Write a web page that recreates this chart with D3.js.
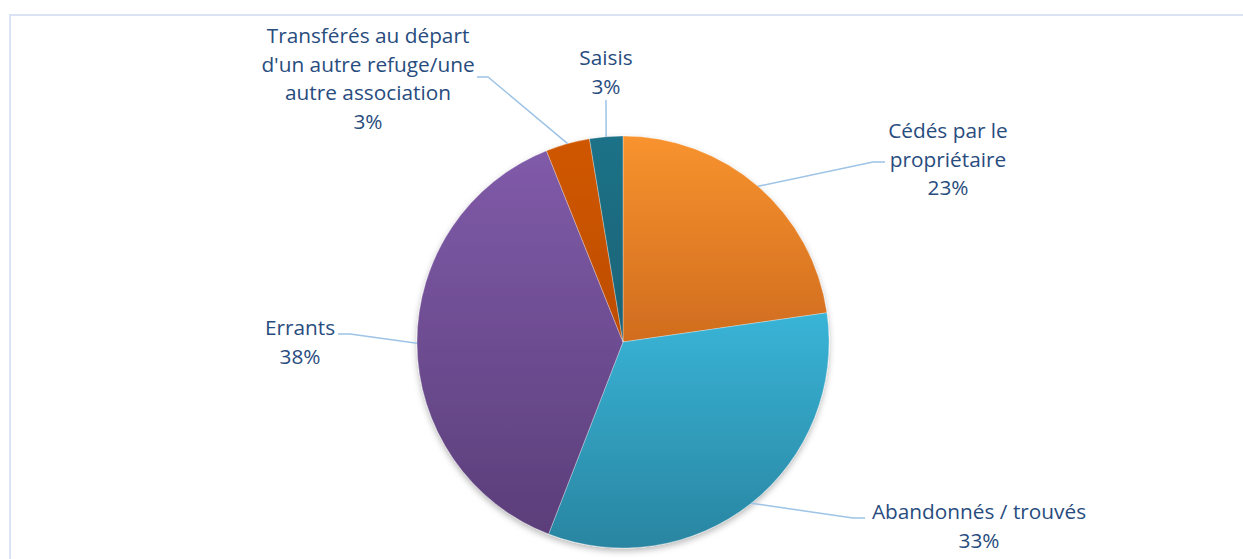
<!DOCTYPE html>
<html lang="fr">
<head>
    <meta charset="UTF-8">
    <title>Origine des animaux</title>
    <script src="https://cdn.jsdelivr.net/npm/d3@7/dist/d3.min.js"></script>
    <style>
        body {
            margin: 0;
            padding: 0;
            background: #fff;
        }
        text {
            font-family: "Open Sans", Lato, sans-serif;
            font-size: 20.8px;
            fill: #284c7e;
        }
    </style>
</head>
<body>
<svg width="1243" height="559" id="mainsvg"></svg>
<script>
    // data (share of animals, clockwise from 12 o'clock)
    const categories = ["Cédés par le propriétaire", "Abandonnés / trouvés", "Errants",
        "Transférés au départ d'un autre refuge/une autre association", "Saisis"];
    const values = [22.7, 33.1, 38.0, 3.45, 2.6];
    // label lines as drawn in the chart
    const labelLines = [
        ["Cédés par le", "propriétaire"],
        ["Abandonnés / trouvés"],
        ["Errants"],
        ["Transférés au départ", "d'un autre refuge/une", "autre association"],
        ["Saisis"]
    ];
    const topColors = ["#f8932f", "#39b4d7", "#805ba9", "#d05700", "#1f7288"];
    const bottomColors = ["#d06c1e", "#2985a1", "#5b3e7a", "#bd4c00", "#1a6275"];

    const width = 1243, height = 559;
    const cx = 623, cy = 342, radius = 206;
    const lineH = 28.5;

    // where each label sits and how its leader line bends (layout only)
    const labelLayout = [
        {x: 948, y: 138, elbow: [873, 162], end: [885, 162]},
        {x: 979, y: 519, elbow: [853, 518], end: [865, 518]},
        {x: 300, y: 335, elbow: [350, 334], end: [338, 334]},
        {x: 368, y: 43, elbow: [488, 77], end: [477, 77]},
        {x: 606, y: 65, elbow: [606, 100], end: [606, 100]}
    ];

    const svg = d3.select("#mainsvg");
    const defs = svg.append("defs");

    // chart area frame
    svg.append("rect")
        .attr("x", 10)
        .attr("y", 15)
        .attr("width", width + 10)
        .attr("height", height + 10)
        .attr("fill", "none")
        .attr("stroke", "#d9e3f3")
        .attr("stroke-width", 2);

    const shadow = defs.append("filter")
        .attr("id", "shadow")
        .attr("x", "-10%").attr("y", "-10%")
        .attr("width", "120%").attr("height", "125%");
    shadow.append("feDropShadow")
        .attr("dx", 0).attr("dy", 3)
        .attr("stdDeviation", 3)
        .attr("flood-color", "#000")
        .attr("flood-opacity", 0.28);

    topColors.forEach((c, i) => {
        let g = defs.append("linearGradient")
            .attr("id", "grad" + i)
            .attr("x1", 0).attr("y1", 0)
            .attr("x2", 0).attr("y2", 1);
        g.append("stop").attr("offset", "0%").attr("stop-color", c);
        g.append("stop").attr("offset", "100%").attr("stop-color", bottomColors[i]);
    });

    const total = d3.sum(values);
    const pie = d3.pie().sort(null).value(d => d);
    const arcs = pie(values);
    const arc = d3.arc().innerRadius(0).outerRadius(radius);

    const pieG = svg.append("g")
        .attr("transform", "translate(" + cx + "," + cy + ")")
        .attr("filter", "url(#shadow)");

    pieG.selectAll("path")
        .data(arcs)
        .enter()
        .append("path")
        .attr("d", arc)
        .attr("fill", (d, i) => "url(#grad" + i + ")")
        .attr("stroke", "rgba(255,255,255,0.5)")
        .attr("stroke-width", 0.6);

    // leader lines from the arc mid-point to the labels
    arcs.forEach((d, i) => {
        let a = (d.startAngle + d.endAngle) / 2;
        let sx = cx + radius * Math.sin(a);
        let sy = cy - radius * Math.cos(a);
        let lay = labelLayout[i];
        svg.append("polyline")
            .attr("points", [[sx, sy], lay.elbow, lay.end].map(p => p.join(",")).join(" "))
            .attr("fill", "none")
            .attr("stroke", "#9dc3e6")
            .attr("stroke-width", 1.5);
    });

    arcs.forEach((d, i) => {
        let lay = labelLayout[i];
        let lines = labelLines[i].concat([Math.round(d.value / total * 100) + "%"]);
        let text = svg.append("text")
            .attr("text-anchor", "middle")
            .attr("x", lay.x)
            .attr("y", lay.y);
        lines.forEach((l, k) => {
            text.append("tspan")
                .attr("x", lay.x)
                .attr("dy", k === 0 ? 0 : lineH)
                .text(l);
        });
    });
</script>
</body>
</html>
